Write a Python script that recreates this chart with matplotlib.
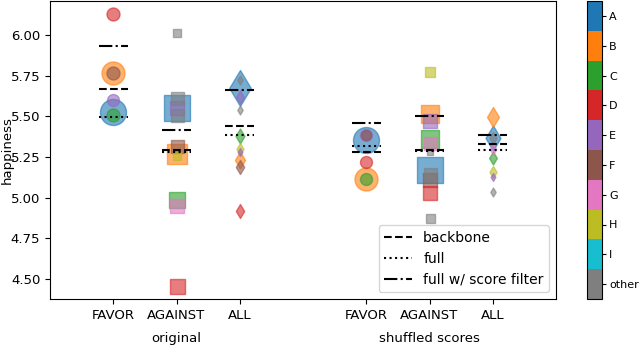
import matplotlib.pyplot as plt
import matplotlib as mpl
from matplotlib.lines import Line2D

# categories and their colours (tab10, gray for "other")
cats = ["A", "B", "C", "D", "E", "F", "G", "H", "I", "other"]
cat_colors = ["#1f77b4", "#ff7f0e", "#2ca02c", "#d62728", "#9467bd",
              "#8c564b", "#e377c2", "#bcbd22", "#17becf", "#7f7f7f"]
col = dict(zip(cats, cat_colors))

stances = ["FAVOR", "AGAINST", "ALL"]
settings = ["original", "shuffled scores"]
xpos = {("original", s): i for i, s in enumerate(stances)}
xpos.update({("shuffled scores", s): i + 4 for i, s in enumerate(stances)})
markers = {"FAVOR": "o", "AGAINST": "s", "ALL": "d"}

# per-category points: (category, happiness, marker size in px)
orig_favor = [("D", 6.128, 13), ("B", 5.768, 23), ("F", 5.768, 13),
              ("E", 5.600, 12), ("A", 5.527, 26), ("C", 5.507, 13)]
orig_against = [("other", 6.014, 8), ("A", 5.549, 27), ("other", 5.615, 13),
                ("E", 5.553, 14), ("other", 5.507, 13), ("F", 5.316, 13),
                ("B", 5.266, 20), ("H", 5.257, 8), ("C", 4.989, 16),
                ("G", 4.946, 14), ("D", 4.459, 15)]
orig_all = [("A", 5.673, 36), ("other", 5.723, 9), ("E", 5.620, 13),
            ("other", 5.538, 9), ("C", 5.377, 15), ("H", 5.300, 12),
            ("E", 5.280, 8), ("B", 5.229, 17), ("F", 5.188, 14),
            ("D", 4.921, 14)]
shuf_favor = [("A", 5.357, 26), ("E", 5.388, 12), ("F", 5.388, 10),
              ("D", 5.219, 12), ("B", 5.116, 23), ("C", 5.116, 12)]
shuf_against = [("H", 5.774, 10), ("B", 5.513, 18), ("E", 5.473, 14),
                ("C", 5.359, 18), ("G", 5.337, 13), ("other", 5.279, 6),
                ("A", 5.168, 26), ("other", 5.146, 13), ("F", 5.106, 14),
                ("D", 5.026, 14), ("other", 4.876, 9)]
shuf_all = [("B", 5.496, 20), ("A", 5.369, 25), ("other", 5.370, 12),
            ("G", 5.300, 11), ("C", 5.246, 13), ("H", 5.157, 12),
            ("E", 5.130, 8), ("other", 5.034, 9)]

points = {
    ("original", "FAVOR"): orig_favor,
    ("original", "AGAINST"): orig_against,
    ("original", "ALL"): orig_all,
    ("shuffled scores", "FAVOR"): shuf_favor,
    ("shuffled scores", "AGAINST"): shuf_against,
    ("shuffled scores", "ALL"): shuf_all,
}

# summary lines: FAVOR, AGAINST, ALL
backbone = {"original": [5.671, 5.292, 5.441], "shuffled scores": [5.281, 5.291, 5.332]}
full = {"original": [5.496, 5.282, 5.388], "shuffled scores": [5.316, 5.285, 5.295]}
score_filter = {"original": [5.932, 5.418, 5.661], "shuffled scores": [5.459, 5.503, 5.383]}

plt.rcParams["font.size"] = 9.5
fig = plt.figure(figsize=(6.4, 3.46), dpi=100)
ax = fig.add_axes([50 / 640, 47 / 346, 506 / 640, 298 / 346])
cax = fig.add_axes([587 / 640, 47 / 346, 15 / 640, 298 / 346])

px2pt = 72 / 100
for key, pts in points.items():
    m = markers[key[1]]
    for c, v, size in sorted(pts, key=lambda p: -p[2]):
        if m == "d":
            size = size / 2 ** 0.5
        ax.scatter(xpos[key], v, s=(size * px2pt) ** 2, marker=m,
                   color=col[c], alpha=0.6, linewidths=1)

w = 0.23
for st in settings:
    for i, s in enumerate(stances):
        x = xpos[(st, s)]
        ax.plot([x - w, x + w], [backbone[st][i]] * 2, color="k", ls="--", lw=1.5)
        ax.plot([x - w, x + w], [full[st][i]] * 2, color="k", ls=":", lw=1.5)
        ax.plot([x - w, x + w], [score_filter[st][i]] * 2, color="k", ls="-.", lw=1.5)

ax.set_xlim(-1, 7)
ax.set_ylim(4.377, 6.21)
ax.set_xticks([0, 1, 2, 4, 5, 6])
ax.set_xticklabels(stances * 2)
ax.set_yticks([4.5, 4.75, 5.0, 5.25, 5.5, 5.75, 6.0])
ax.set_ylabel("happiness")
ax.yaxis.set_label_coords(-0.072, 0.5)
for st, xc in zip(settings, [1, 5]):
    ax.text(xc, -0.131, st, transform=ax.get_xaxis_transform(),
            ha="center", va="center")

handles = [Line2D([], [], color="k", ls="--", lw=1.5),
           Line2D([], [], color="k", ls=":", lw=1.5),
           Line2D([], [], color="k", ls="-.", lw=1.5)]
ax.legend(handles, ["backbone", "full", "full w/ score filter"],
          loc="lower right", fontsize=10)

# discrete colour bar, A on top
cmap = mpl.colors.ListedColormap(cat_colors[::-1])
norm = mpl.colors.BoundaryNorm(range(11), cmap.N)
cb = fig.colorbar(mpl.cm.ScalarMappable(norm=norm, cmap=cmap), cax=cax)
cb.set_ticks([i + 0.5 for i in range(10)])
cb.set_ticklabels(cats[::-1])
cax.tick_params(labelsize=8, length=3, pad=2)
cax.minorticks_off()

fig.savefig("out.png")
